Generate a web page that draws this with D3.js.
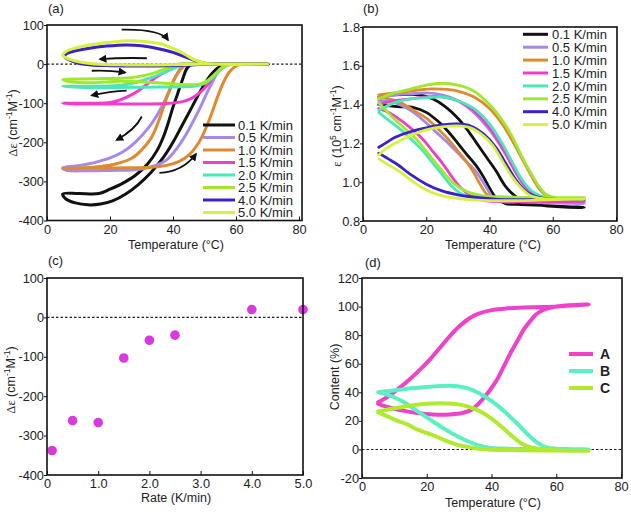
<!DOCTYPE html>
<html><head><meta charset="utf-8">
<script src="https://cdn.jsdelivr.net/npm/d3@7"></script>
<style>body{margin:0;background:#fff}</style>
</head><body>
<script>
// ---------- DATA ----------
const rateLabels = ["0.1 K/min","0.5 K/min","1.0 K/min","1.5 K/min","2.0 K/min","2.5 K/min","4.0 K/min","5.0 K/min"];
const rateColors = ["#111111","#a58ae8","#e08a30","#f23ccc","#48e8b8","#a0e830","#3a22c8","#d8f040"];

// Panel (a): Δε vs temperature, [T, Δε], path order cooling then heating
const a01 = [[70,0],[56,0],[46,0],[44.5,-10],[43,-40],[41.5,-75],[40,-110],[38.5,-150],[37,-185],[35,-220],[32,-255],[28,-285],[24,-305],[20,-320],[16.5,-331],[10,-331],[5,-332],[6,-345],[9,-355],[13,-360],[17,-358],[21,-349],[25,-332],[29,-308],[33,-277],[37,-238],[40,-200],[43,-155],[46,-110],[49,-65],[52,-28],[55,-6],[58,0],[70,0]];
const a05 = [[70,0],[56,0],[45,0],[43,-5],[41,-30],[39,-65],[37,-100],[35,-130],[32,-165],[28,-200],[24,-225],[20,-240],[15,-252],[10,-260],[5,-265],[6,-271],[12,-273],[20,-272],[28,-270],[32,-265],[35,-258],[38,-245],[41,-218],[44,-182],[46.5,-145],[49,-105],[51,-70],[53,-38],[55,-12],[57,-2],[59,0],[70,0]];
const a10 = [[70,0],[56,0],[45,0],[43.5,-5],[41,-30],[39,-65],[37,-110],[35,-155],[33,-190],[30,-220],[27,-240],[22,-255],[17,-262],[10,-266],[5,-268],[10,-267],[18,-266],[26,-265],[33,-264],[38,-259],[42,-249],[45,-233],[48,-203],[50,-172],[52,-132],[54,-87],[56,-47],[58,-19],[60,-5],[62,0],[70,0]];
const a15 = [[70,0],[50,0],[43,0],[41,-5],[38,-18],[35,-32],[32,-50],[29,-68],[26,-82],[23,-92],[20,-98],[15,-100],[10,-100],[5,-100],[10,-102],[20,-102],[30,-102],[38,-101],[43,-96],[46,-87],[49,-70],[51,-52],[53,-32],[55,-14],[57,-3],[59,0],[70,0]];
const a20 = [[70,0],[50,0],[44,0],[41,-8],[37,-22],[33,-35],[29,-45],[25,-52],[20,-56],[12,-57],[5,-57],[12,-60],[22,-60],[32,-59],[42,-58],[47,-56],[50,-50],[52,-39],[54,-23],[56,-9],[58,-1],[60,0],[70,0]];
const a25 = [[70,0],[50,0],[42,0],[39,-8],[36,-17],[33,-25],[29,-32],[24,-36],[18,-37],[12,-38],[5,-40],[8,-46],[13,-48],[18,-46],[23,-44],[29,-45],[35,-48],[41,-51],[46,-53],[49,-50],[51,-42],[53,-28],[55,-13],[57,-3],[59,0],[70,0]];
const a40 = [[70,0],[52,0],[46,-2],[38,-4],[28,-5],[20,-4],[14,-2],[10,2],[7,11],[5.5,20],[6.5,28],[9,34],[13,40],[19,46],[25,49],[30,47],[35,40],[40,30],[44,18],[47.5,8],[50,2],[53,0],[60,0]];
const a50 = [[70,0],[52,0],[45,-1],[35,-2],[25,-2],[18,-1],[13,2],[9,8],[6,16],[5,24],[6,32],[8,39],[11,45],[15,51],[20,56],[26,60],[31,58],[36,52],[40,40],[44,24],[47,10],[50,3],[53,0],[70,0]];
const seriesA = [a01,a05,a10,a15,a20,a25,a40,a50];
// annotation arrows in (a): [start, control, end] in data units
const arrowsA = [
  [[23.7,88],[35.9,90],[38.4,62]],
  [[31.7,15],[24,17],[16.8,12.5]],
  [[14.2,-17],[19.5,-15],[24.8,-21.5]],
  [[25.3,-68],[20,-70],[14.2,-80]],
  [[30.1,-134],[28,-168],[22.1,-194]],
  [[35.7,-278],[43,-276],[47.3,-230]]
];

// Panel (b): ε (10^5) vs temperature, heating then cooling
const b01 = [[5,1.44],[10,1.45],[18,1.45],[22,1.43],[26,1.39],[30,1.33],[33,1.27],[36,1.2],[39,1.13],[42,1.06],[45,0.98],[48,0.93],[51,0.9],[55,0.885],[60,0.875],[65,0.87],[70,0.87],[60,0.878],[50,0.885],[45,0.89],[42,0.92],[40,0.97],[38,1.03],[36,1.08],[33,1.14],[30,1.2],[27,1.26],[24,1.31],[20,1.36],[16,1.385],[11,1.39],[5,1.4]];
const b05 = [[5,1.43],[10,1.45],[15,1.455],[20,1.46],[25,1.45],[30,1.42],[35,1.36],[40,1.27],[43,1.2],[46,1.12],[49,1.03],[52,0.96],[55,0.92],[60,0.9],[65,0.895],[70,0.89],[60,0.893],[50,0.898],[44,0.9],[41,0.92],[39.5,0.96],[38,1.0],[35.5,1.06],[33,1.1],[30,1.15],[27,1.2],[23,1.26],[19,1.32],[15,1.37],[10,1.41],[5,1.42]];
const b10 = [[5,1.45],[10,1.46],[15,1.47],[20,1.48],[25,1.48],[30,1.47],[35,1.44],[40,1.38],[44,1.3],[47,1.22],[50,1.13],[53,1.04],[56,0.96],[58,0.93],[61,0.91],[65,0.905],[70,0.9],[60,0.902],[50,0.902],[45,0.903],[41,0.91],[39,0.94],[37,0.99],[35,1.05],[33,1.1],[30,1.16],[27,1.22],[24,1.27],[20,1.33],[16,1.37],[12,1.41],[8,1.43],[5,1.44]];
const b15 = [[5,1.40],[10,1.42],[15,1.43],[20,1.44],[25,1.44],[30,1.42],[35,1.37],[40,1.28],[44,1.18],[47,1.09],[50,1.01],[53,0.95],[56,0.92],[60,0.905],[70,0.9],[60,0.9],[48,0.9],[40,0.902],[37,0.91],[34,0.93],[31,0.97],[28,1.03],[25,1.1],[22,1.16],[19,1.22],[15,1.28],[11,1.33],[8,1.36],[5,1.38]];
const b20 = [[5,1.37],[10,1.41],[15,1.43],[20,1.435],[25,1.44],[30,1.42],[35,1.38],[40,1.3],[44,1.2],[47,1.11],[50,1.02],[53,0.96],[56,0.93],[60,0.915],[70,0.91],[60,0.912],[50,0.912],[40,0.915],[35,0.92],[31,0.94],[28,0.98],[25,1.04],[22,1.1],[19,1.16],[16,1.21],[12,1.27],[8,1.32],[5,1.36]];
const b25 = [[5,1.43],[10,1.46],[15,1.48],[20,1.5],[25,1.51],[30,1.5],[35,1.47],[40,1.4],[44,1.32],[47,1.24],[50,1.14],[53,1.05],[56,0.97],[58,0.935],[61,0.92],[70,0.92],[60,0.921],[50,0.922],[44,0.925],[38,0.93],[33,0.95],[29,0.99],[26,1.04],[23,1.1],[20,1.16],[17,1.22],[13,1.28],[9,1.34],[5,1.41]];
const b40 = [[5,1.18],[7,1.2],[10,1.23],[15,1.26],[20,1.28],[25,1.295],[30,1.3],[34,1.29],[38,1.25],[42,1.18],[45,1.1],[48,1.02],[51,0.96],[54,0.93],[58,0.915],[70,0.91],[60,0.91],[50,0.91],[45,0.91],[40,0.915],[34,0.925],[30,0.935],[25,0.955],[20,0.99],[15,1.04],[11,1.09],[8,1.12],[5,1.15]];
const b50 = [[5,1.14],[7,1.17],[10,1.2],[15,1.24],[20,1.27],[25,1.285],[30,1.29],[34,1.28],[38,1.24],[41,1.19],[44,1.11],[47,1.03],[50,0.97],[53,0.93],[57,0.915],[70,0.912],[60,0.91],[50,0.905],[40,0.905],[33,0.91],[28,0.92],[24,0.935],[20,0.96],[16,1.0],[12,1.05],[9,1.08],[5,1.12]];
const seriesB = [b01,b05,b10,b15,b20,b25,b40,b50];

// Panel (c): Δε vs rate
const rates = [0.1,0.5,1.0,1.5,2.0,2.5,4.0,5.0];
const deltaEps = [-338,-262,-267,-103,-58,-45,20,20];

// Panel (d): content (%) vs temperature
const contentLabels = ["A","B","C"];
const contentColors = ["#f042c8","#5cefc4","#b0ea30"];
const dA = [[5,33],[8,37],[11,42],[14.5,48.6],[18,56],[21,63],[24,71],[27,79],[30,86],[33,91.5],[36,95],[40,97.5],[45,98.8],[50,99.4],[56,99.7],[63,100.5],[70,101.5],[63,100.8],[60,100],[57,98.5],[54,95],[52,90],[50,84],[48,76],[46,68],[44,59],[42,50],[40,43],[38,37],[36,32],[34,28],[31,25.5],[27,24.5],[22,24.5],[17,25.5],[13,27],[9,29],[6,31],[5,32]];
const dB = [[5,40],[9,41],[13,42.2],[18,43.3],[23,44.2],[27,44.5],[30,44],[33,42.5],[36,39.5],[39,35.5],[42,30.5],[45,24.5],[48,18],[51,11],[54,5],[57,1.5],[60,0.5],[65,0.2],[70,0],[60,0.2],[50,0.3],[45,0.5],[40,1],[37,2.2],[34,4.5],[31,7.5],[28,11],[25,15],[22,19.5],[19,24],[16,28.5],[13,33],[10,36.5],[7,39],[5,40]];
const dC = [[5,26.5],[8,28],[12,29.5],[16,31],[20,32],[24,32.4],[28,32],[31,31],[34,29],[37,26],[40,21.5],[43,16],[46,10],[49,4.5],[52,1.5],[55,0.3],[60,-0.5],[70,-1],[60,-0.8],[50,-0.5],[40,-0.2],[36,0.5],[33,1.5],[29,3.5],[26,6],[23,9],[20,11.5],[17,14],[14,17.5],[11,20],[8,23],[5,26]];
const seriesD = [dA,dB,dC];

const tempTicks = [0,20,40,60,80];

// ---------- DRAW ----------
const FONT = '"Liberation Sans", Arial, Helvetica, sans-serif';
const SERIF = '"Liberation Serif", "Times New Roman", serif';
const svg = d3.select("body").append("svg").attr("width",631).attr("height",512)
  .style("font-family",FONT);

svg.append("defs").append("marker").attr("id","ah")
  .attr("viewBox","0 0 10 10").attr("refX",8).attr("refY",5)
  .attr("markerWidth",4.5).attr("markerHeight",4.5).attr("orient","auto-start-reverse")
  .attr("markerUnits","strokeWidth")
  .append("path").attr("d","M0,0 L10,5 L0,10 Z").attr("fill","#111");

function panel(o){
  const g = svg.append("g");
  const x = d3.scaleLinear(o.xd, o.xr), y = d3.scaleLinear(o.yd, o.yr);
  if (o.dash) g.append("line").attr("x1",o.xr[0]).attr("x2",o.fr).attr("y1",y(0)).attr("y2",y(0))
     .attr("stroke","#222").attr("stroke-width",1.1).attr("stroke-dasharray","2.5,2");
  const xa = g.append("g").attr("transform",`translate(0,${o.yr[0]})`)
    .call(d3.axisBottom(x).tickValues(o.xt).tickFormat(o.xf).tickSizeInner(-4).tickSizeOuter(0).tickPadding(4));
  const ya = g.append("g").attr("transform",`translate(${o.xr[0]},0)`)
    .call(d3.axisLeft(y).tickValues(o.yt).tickFormat(o.yf).tickSizeInner(3).tickSizeOuter(0).tickPadding(0));
  [xa,ya].forEach(a=>{
    a.select(".domain").remove();
    a.selectAll("text").attr("font-family",FONT).attr("font-size",12.8).attr("fill","#222");
    a.selectAll("line").attr("stroke","#111");
  });
  const plot = g.append("g");
  g.append("rect").attr("x",o.xr[0]).attr("y",o.yr[1]).attr("width",o.fr-o.xr[0]).attr("height",o.yr[0]-o.yr[1])
    .attr("fill","none").attr("stroke","#111").attr("stroke-width",1.6);
  return {g, plot, x, y};
}

function yTitle(cx, cy, build){
  const t = svg.append("text").attr("transform",`translate(${cx+4.4},${cy}) rotate(-90)`)
    .attr("text-anchor","middle").attr("font-size",12.5).attr("fill","#222");
  build(t);
}
function sup(t, s){ t.append("tspan").attr("font-size",8.5).attr("dy",-5).text(s); }
function down(t, s){ t.append("tspan").attr("dy",5).text(s); }
function deltaEpsTitle(t){
  t.append("tspan").attr("font-family",SERIF).text("Δε");
  t.append("tspan").text(" (cm"); sup(t,"-1"); down(t,"M"); sup(t,"-1"); down(t,")");
}
function label(x,y,s,size,anchor){
  svg.append("text").attr("x",x).attr("y",y).attr("font-size",size||12.5).attr("fill","#222")
    .attr("text-anchor",anchor||"middle").text(s);
}
const fmt1 = d => d.toFixed(1);

// ---- Panel (a)
const A = panel({xd:[0,80], xr:[47,299], fr:302, yd:[-400,100], yr:[220.5,25],
  xt:tempTicks, xf:d=>d, yt:[-400,-300,-200,-100,0,100], yf:d=>d, dash:true});
const lineA = d3.line().x(d=>A.x(d[0])).y(d=>A.y(d[1])).curve(d3.curveCatmullRom.alpha(0.5));
A.plot.selectAll("path.s").data(seriesA).join("path").attr("class","s")
  .attr("d",lineA).attr("fill","none").attr("stroke",(d,i)=>rateColors[i])
  .attr("stroke-width",3).attr("stroke-linejoin","round").attr("stroke-linecap","round");
A.plot.selectAll("path.ar").data(arrowsA).join("path").attr("class","ar")
  .attr("d",d=>{const p=d.map(q=>[A.x(q[0]),A.y(q[1])]);return `M${p[0]}Q${p[1]} ${p[2]}`;})
  .attr("fill","none").attr("stroke","#111").attr("stroke-width",1.8).attr("marker-end","url(#ah)");
const legA = A.g.append("g");
rateLabels.forEach((s,i)=>{
  const yy = 125 + i*12.5;
  legA.append("line").attr("x1",203).attr("x2",235).attr("y1",yy).attr("y2",yy)
    .attr("stroke",rateColors[i]).attr("stroke-width",3);
  legA.append("text").attr("x",238).attr("y",yy).attr("dy","0.36em").attr("font-size",13).attr("fill","#222").text(s);
});
label(48,13,"(a)",13,"start");
label(176,249,"Temperature (°C)");
yTitle(13,123,deltaEpsTitle);

// ---- Panel (b)
const B = panel({xd:[0,80], xr:[363,616], fr:617, yd:[0.8,1.8], yr:[221,27],
  xt:tempTicks, xf:d=>d, yt:[0.8,1.0,1.2,1.4,1.6,1.8], yf:fmt1, dash:false});
const lineB = d3.line().x(d=>B.x(d[0])).y(d=>B.y(d[1])).curve(d3.curveCatmullRom.alpha(0.5));
B.plot.selectAll("path.s").data(seriesB).join("path").attr("class","s")
  .attr("d",lineB).attr("fill","none").attr("stroke",(d,i)=>rateColors[i])
  .attr("stroke-width",2.8).attr("stroke-linejoin","round").attr("stroke-linecap","round");
const legB = B.g.append("g");
rateLabels.forEach((s,i)=>{
  const yy = 34.3 + i*12.9;
  legB.append("line").attr("x1",523).attr("x2",548).attr("y1",yy).attr("y2",yy)
    .attr("stroke",rateColors[i]).attr("stroke-width",3);
  legB.append("text").attr("x",552).attr("y",yy).attr("dy","0.36em").attr("font-size",13).attr("fill","#222").text(s);
});
label(363,13,"(b)",13,"start");
label(493,249,"Temperature (°C)");
yTitle(337,126,t=>{
  t.append("tspan").attr("font-family",SERIF).text("ε");
  t.append("tspan").text(" (10"); sup(t,"5"); down(t," cm"); sup(t,"-1"); down(t,"M"); sup(t,"-1"); down(t,")");
});

// ---- Panel (c)
const C = panel({xd:[0,5], xr:[47,303], fr:303, yd:[-400,100], yr:[475,278],
  xt:[0,1,2,3,4,5], xf:d=>d===0?"0":fmt1(d), yt:[-400,-300,-200,-100,0,100], yf:d=>d, dash:true});
C.plot.selectAll("circle").data(rates).join("circle")
  .attr("cx",d=>C.x(d)).attr("cy",(d,i)=>C.y(deltaEps[i])).attr("r",4.8).attr("fill","#d83ade");
label(48,265,"(c)",13,"start");
label(176,502,"Rate (K/min)");
yTitle(11,380,deltaEpsTitle);

// ---- Panel (d)
const D = panel({xd:[0,80], xr:[362,621], fr:622, yd:[-20,120], yr:[478,278],
  xt:tempTicks, xf:d=>d, yt:[-20,0,20,40,60,80,100,120], yf:d=>d, dash:true});
const lineD = d3.line().x(d=>D.x(d[0])).y(d=>D.y(d[1])).curve(d3.curveCatmullRom.alpha(0.5));
D.plot.selectAll("path.s").data(seriesD).join("path").attr("class","s")
  .attr("d",lineD).attr("fill","none").attr("stroke",(d,i)=>contentColors[i])
  .attr("stroke-width",4).attr("stroke-linejoin","round").attr("stroke-linecap","round");
const legD = D.g.append("g");
contentLabels.forEach((s,i)=>{
  const yy = 354 + i*17;
  legD.append("line").attr("x1",569).attr("x2",593).attr("y1",yy).attr("y2",yy)
    .attr("stroke",contentColors[i]).attr("stroke-width",4);
  legD.append("text").attr("x",600).attr("y",yy).attr("dy","0.36em").attr("font-size",14)
    .attr("font-weight","bold").attr("fill","#222").text(s);
});
label(365,267,"(d)",13,"start");
label(493,507,"Temperature (°C)");
yTitle(335,377,t=>t.text("Content (%)"));
</script>
</body></html>
